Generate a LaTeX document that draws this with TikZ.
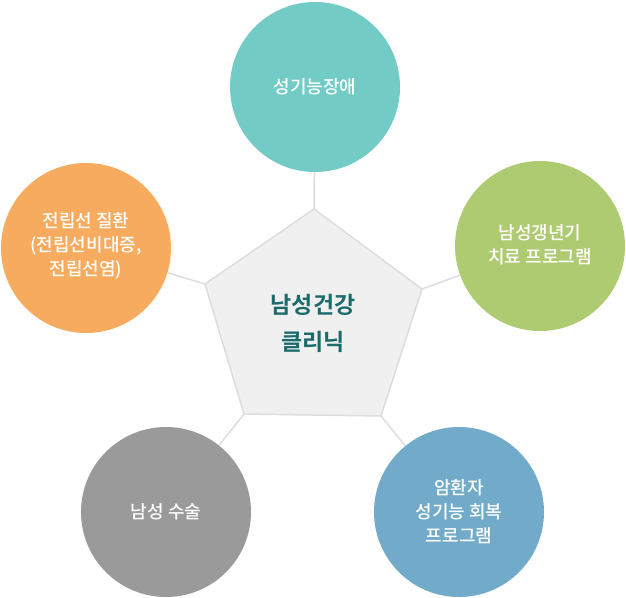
\documentclass[tikz,border=0pt]{standalone}
\usepackage{fontspec}
\setmainfont{Noto Sans CJK KR Medium}
\newfontfamily\kbold{Noto Sans CJK KR Bold}
\definecolor{cteal}{HTML}{72CBC4}
\definecolor{cgreen}{HTML}{AECB72}
\definecolor{cblue}{HTML}{72ABC9}
\definecolor{cgray}{HTML}{9A9A9A}
\definecolor{corange}{HTML}{F7AB5E}
\definecolor{pfill}{HTML}{F0F0F0}
\definecolor{pline}{HTML}{DDDDDD}
\definecolor{ctext}{HTML}{1B6B6B}
\begin{document}
\begin{tikzpicture}[x=1pt,y=-1pt,
  bubble/.style={circle,minimum size=170pt,inner sep=0pt,draw=none},
  btext/.style={text=white,align=center,font=\fontsize{18pt}{24pt}\selectfont},
  link/.style={draw=pline,line width=1.5pt}]
\useasboundingbox (0,0) rectangle (626,597);
\coordinate (p1) at (314,209);
\coordinate (p2) at (422,289);
\coordinate (p3) at (381,416);
\coordinate (p4) at (244,414);
\coordinate (p5) at (205,284);
\node[bubble,fill=cteal] (c1) at (315,87) {};
\node[bubble,fill=cgreen] (c2) at (540,246) {};
\node[bubble,fill=cblue] (c3) at (459,512) {};
\node[bubble,fill=cgray] (c4) at (166,512) {};
\node[bubble,fill=corange] (c5) at (86,248) {};
\draw[link] (p1) -- (c1);
\draw[link] (p2) -- (c2);
\draw[link] (p3) -- (c3);
\draw[link] (p4) -- (c4);
\draw[link] (p5) -- (c5);
\filldraw[fill=pfill,draw=pline,line width=1.5pt] (p1) -- (p2) -- (p3) -- (p4) -- (p5) -- cycle;
\node[btext] (t1) at (315,87) {성기능장애};
\node[btext] (t2) at (540,245) {남성갱년기\\치료 프로그램};
\node[btext] (t3) at (459,512) {암환자\\성기능 회복\\프로그램};
\node[btext] (t4) at (166,512) {남성 수술};
\node[btext] (t5) at (86,246) {전립선 질환\\(전립선비대증,\\전립선염)};
\node[align=center,text=ctext,font=\kbold\fontsize{23pt}{37pt}\selectfont] (ct) at (313,323) {남성건강\\클리닉};
\end{tikzpicture}
\end{document}
